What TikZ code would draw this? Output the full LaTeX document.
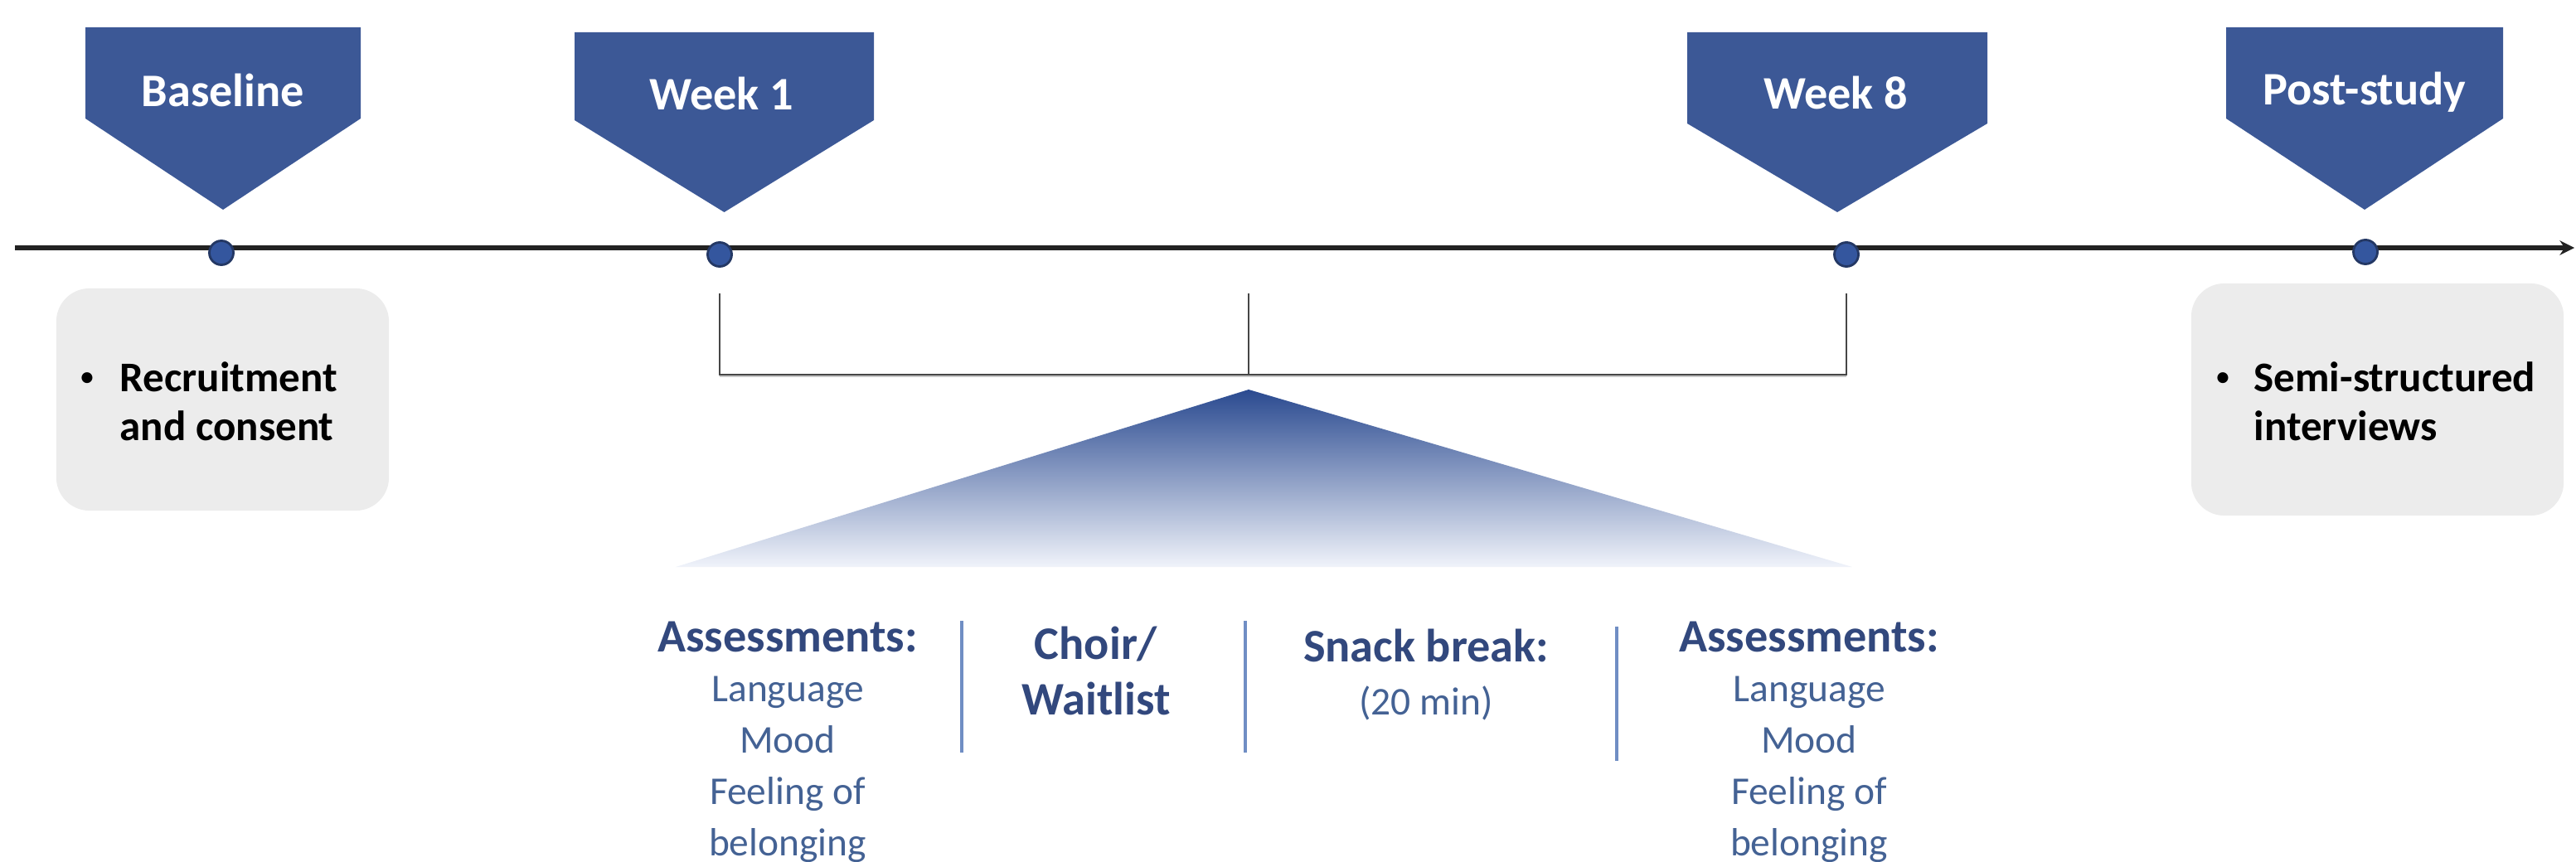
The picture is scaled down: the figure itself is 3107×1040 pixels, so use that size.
\documentclass[tikz,border=0pt]{standalone}
\usepackage{fontspec}
\setmainfont{Carlito}
\usetikzlibrary{arrows.meta}

\definecolor{mblue}{RGB}{60,88,150}
\definecolor{dotblue}{RGB}{52,86,158}
\definecolor{dotedge}{RGB}{36,56,100}
\definecolor{boxgrey}{RGB}{236,236,236}
\definecolor{headblue}{RGB}{50,72,125}
\definecolor{itemblue}{RGB}{68,98,148}
\definecolor{sepblue}{RGB}{112,142,196}
\definecolor{tritop}{RGB}{42,74,144}
\definecolor{trimid}{RGB}{122,143,195}
\definecolor{tribot}{RGB}{240,243,250}
\definecolor{axisgrey}{RGB}{34,34,34}
\definecolor{brgrey}{RGB}{70,70,70}

% pentagon marker: left, right, top, shoulder, tip
\newcommand\milestoneshape[5]{%
  \fill[milestone] (#1,#3) -- (#2,#3) -- (#2,#4) -- ({(#1+#2)/2},#5) -- (#1,#4) -- cycle;}

\begin{document}
\begin{tikzpicture}[x=0.01cm,y=-0.01cm,
  milestone/.style={fill=mblue},
  mlabel/.style={text=white,font=\fontsize{16}{19}\selectfont\bfseries,anchor=base,inner sep=0},
  dot/.style={circle,fill=dotblue,draw=dotedge,line width=0.8pt,minimum size=0.29cm,inner sep=0},
  greybox/.style={rectangle,rounded corners=0.4cm,fill=boxgrey,inner sep=0},
  boxtext/.style={font=\fontsize{14.5}{17}\selectfont\bfseries,text=black,anchor=base west,inner sep=0},
  bulletmark/.style={font=\fontsize{10.5}{12}\selectfont,text=black,anchor=center,inner sep=0},
  colhead/.style={font=\fontsize{16}{19}\selectfont\bfseries,text=headblue,anchor=base,inner sep=0},
  colitem/.style={font=\fontsize{13.5}{16}\selectfont,text=itemblue,anchor=base,inner sep=0},
  separator/.style={draw=sepblue,line width=1pt},
  bracket/.style={draw=brgrey,line width=0.6pt},
  timeaxis/.style={draw=axisgrey,line width=1.7pt,-{Stealth[length=5pt,width=5pt]}}
]
\useasboundingbox (0,0) rectangle (3107,1040);

% milestone pentagons
\milestoneshape{103}{435}{33}{143}{253}
\milestoneshape{693}{1054}{39}{145}{256}
\milestoneshape{2035}{2397}{39}{149}{256}
\milestoneshape{2685}{3019}{33}{143}{253}

\node[mlabel] (lbase) at (269,129) {Baseline};
\node[mlabel] (lw1)   at (870,133) {Week 1};
\node[mlabel] (lw8)   at (2214,132) {Week 8};
\node[mlabel] (lpost) at (2852,127) {Post-study};

% time axis
\coordinate (tlstart) at (18,299);
\coordinate (tlend) at (3105,299);
\draw[timeaxis] (tlstart) -- (tlend);

\node[dot] (d0) at (267,305) {};
\node[dot] (d1) at (868,307) {};
\node[dot] (d2) at (2227,307) {};
\node[dot] (d3) at (2853,304) {};

% grey note boxes
\node[greybox,minimum width=4.01cm,minimum height=2.68cm] (box0) at (268.5,482) {};
\node[greybox,minimum width=4.49cm,minimum height=2.8cm] (box3) at (2867.5,482) {};

\node[bulletmark] (bul0) at (105,458) {•};
\node[boxtext] (rec1) at (144,472) {Recruitment};
\node[boxtext] (rec2) at (144,531) {and consent};

\node[bulletmark] (bul3) at (2681,458) {•};
\node[boxtext] (int1) at (2718,472) {Semi-structured};
\node[boxtext] (int2) at (2718,531) {interviews};

% intervention bracket
\coordinate (brtop) at (0,354);
\coordinate (brbot) at (0,452);
\coordinate (apex) at (1506,470);
\draw[draw=brgrey!30,line width=0.6pt] ([yshift=-0.02cm]d1 |- brbot) -- ([yshift=-0.02cm]d2 |- brbot);
\draw[bracket] (d1 |- brtop) -- (d1 |- brbot) -- (d2 |- brbot) -- (d2 |- brtop);
\draw[bracket] (apex |- brtop) -- (apex |- brbot);

% fading wedge
\coordinate (wl) at (815,684);
\coordinate (wr) at (2234,684);
\shade[top color=tritop,middle color=trimid,bottom color=tribot] (apex) -- (wr) -- (wl) -- cycle;

% session columns
\node[colhead] (a1h) at (950,786) {Assessments:};
\node[colitem] (a1a) at (950,846) {Language};
\node[colitem] (a1b) at (950,908) {Mood};
\node[colitem] (a1c) at (950,970) {Feeling of};
\node[colitem] (a1d) at (950,1032) {belonging};

\node[colhead] (ch1) at (1322,795) {Choir/};
\node[colhead] (ch2) at (1322,862) {Waitlist};

\node[colhead] (sn1) at (1720,798) {Snack break:};
\node[colitem] (sn2) at (1720,862) {(20 min)};

\node[colhead] (a2h) at (2182,786) {Assessments:};
\node[colitem] (a2a) at (2182,846) {Language};
\node[colitem] (a2b) at (2182,908) {Mood};
\node[colitem] (a2c) at (2182,970) {Feeling of};
\node[colitem] (a2d) at (2182,1032) {belonging};

\coordinate (s1t) at (1160,749); \coordinate (s1b) at (1160,908);
\coordinate (s2t) at (1502,749); \coordinate (s2b) at (1502,908);
\coordinate (s3t) at (1950,756); \coordinate (s3b) at (1950,918);
\draw[separator] (s1t) -- (s1b);
\draw[separator] (s2t) -- (s2b);
\draw[separator] (s3t) -- (s3b);
\end{tikzpicture}
\end{document}
